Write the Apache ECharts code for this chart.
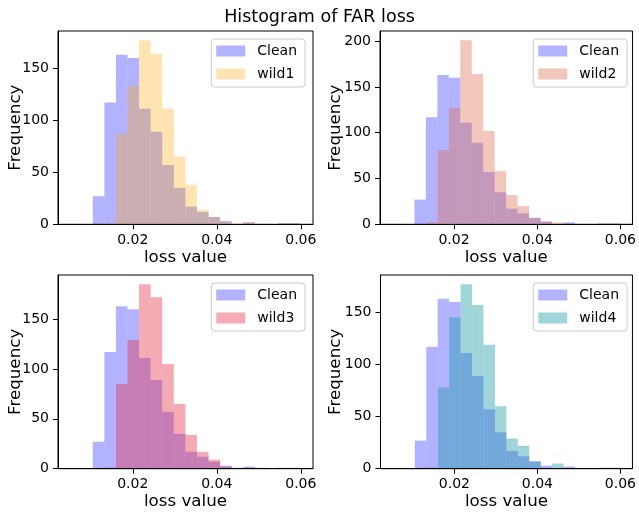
<!DOCTYPE html>
<html>
<head>
<meta charset="utf-8">
<script src="https://cdn.jsdelivr.net/npm/echarts@6/dist/echarts.min.js"></script>
<style>
html,body{margin:0;padding:0;background:#fff;}
#chart{width:639px;height:513px;}
</style>
</head>
<body>
<div id="chart"></div>
<script>
// ---- data ----
const chartTitle = 'Histogram of FAR loss';
const binEdges = [0.01047, 0.01323, 0.01599, 0.01874, 0.02150, 0.02426, 0.02701, 0.02977, 0.03253, 0.03528,
                  0.03804, 0.04080, 0.04355, 0.04631, 0.04907, 0.05182, 0.05458, 0.05734, 0.06009];
const clean = [27, 117, 163, 160, 111, 89, 57, 35, 17, 12, 7, 3, 0, 2, 0, 0, 1, 1];
const wild1 = [0, 1, 87, 133, 177, 164, 111, 65, 38, 14, 7, 3, 1, 2, 0, 0, 0, 0];
const wild2 = [0, 2, 81, 127, 201, 164, 102, 58, 32, 20, 7, 3, 2, 0, 0, 0, 0, 0];
const wild3 = [0, 1, 85, 129, 185, 172, 105, 65, 34, 17, 9, 2, 1, 1, 1, 0, 0, 0];
const wild4 = [0, 1, 78, 145, 177, 157, 119, 60, 29, 22, 7, 1, 5, 0, 0, 0, 0, 0];
const wildNames = ['wild1', 'wild2', 'wild3', 'wild4'];
const xTicks = [0.02, 0.04, 0.06];
const yTicks1 = [0, 50, 100, 150];
const yTicks2 = [0, 50, 100, 150, 200];
const yTicks3 = [0, 50, 100, 150];
const yTicks4 = [0, 50, 100, 150];
const xLabel = 'loss value';
const yLabel = 'Frequency';

// ---- styling / layout ----
const FONT = 'DejaVu Sans';
const cleanColor = 'rgba(0,0,255,0.3)';
const wildColors = ['rgba(255,165,0,0.3)', 'rgba(222,112,82,0.4)', 'rgba(228,45,68,0.4)', 'rgba(17,152,162,0.4)'];
const wildData = [wild1, wild2, wild3, wild4];
const yTicksAll = [yTicks1, yTicks2, yTicks3, yTicks4];
const xMin = 0.0022, xMax = 0.0629;
const grids = [
  {left: 58, top: 31, width: 255, height: 193.3},
  {left: 380, top: 31, width: 255, height: 193.3},
  {left: 58, top: 275, width: 255, height: 193.7},
  {left: 380.5, top: 275, width: 254.5, height: 193.7}
];
const legendPos = [
  {right: 334, top: 39},
  {right: 12, top: 39},
  {right: 334, top: 283},
  {right: 12, top: 283}
];
const yNameGap = [34, 36, 34, 36];

function rows(counts) {
  return counts.map((c, i) => [binEdges[i], binEdges[i + 1], c]);
}
function renderItem(params, api) {
  const x0 = api.value(0), x1 = api.value(1), h = api.value(2);
  if (!h) return null;
  const p0 = api.coord([x0, 0]);
  const p1 = api.coord([x1, h]);
  return {
    type: 'rect',
    shape: {x: p0[0], y: p1[1], width: p1[0] - p0[0], height: p0[1] - p1[1]},
    style: api.style()
  };
}

const option = {
  animation: false,
  backgroundColor: '#fff',
  title: {
    text: chartTitle, left: 'center', top: 3,
    textStyle: {fontFamily: FONT, fontSize: 17.5, fontWeight: 'normal', color: '#000'}
  },
  grid: grids.map(g => Object.assign({show: true, borderColor: '#000', borderWidth: 1, backgroundColor: 'transparent'}, g)),
  xAxis: grids.map((g, i) => ({
    gridIndex: i, type: 'value', min: xMin, max: xMax, z: 5,
    splitLine: {show: false},
    axisLine: {show: true, onZero: false, lineStyle: {color: '#000', width: 1}},
    axisTick: {show: true, length: 5, customValues: xTicks, lineStyle: {color: '#000', width: 1}},
    axisLabel: {customValues: xTicks, margin: 9, fontSize: 14, color: '#000', fontFamily: FONT},
    name: xLabel, nameLocation: 'middle', nameGap: 24.5, nameMoveOverlap: false,
    nameTextStyle: {fontSize: 16.7, color: '#000', fontFamily: FONT}
  })),
  yAxis: grids.map((g, i) => {
    const maxCount = Math.max(...clean, ...wildData[i]);
    return {
      gridIndex: i, type: 'value', min: 0, max: maxCount * 1.05, z: 5,
      splitLine: {show: false},
      axisLine: {show: true, lineStyle: {color: '#000', width: 1}},
      axisTick: {show: true, length: 5, customValues: yTicksAll[i], lineStyle: {color: '#000', width: 1}},
      axisLabel: {customValues: yTicksAll[i], margin: 9, fontSize: 14, color: '#000', fontFamily: FONT},
      name: yLabel, nameLocation: 'middle', nameGap: yNameGap[i], nameRotate: 90, nameMoveOverlap: false,
      nameTextStyle: {fontSize: 16.7, color: '#000', fontFamily: FONT}
    };
  }),
  legend: grids.map((g, i) => ({
    data: ['Clean', wildNames[i]],
    orient: 'vertical',
    right: legendPos[i].right, top: legendPos[i].top,
    icon: 'rect', itemWidth: 29, itemHeight: 11, itemGap: 9,
    padding: [5, 8, 6, 5],
    backgroundColor: 'rgba(255,255,255,0.8)',
    borderColor: '#ccc', borderWidth: 1, borderRadius: 3,
    selectedMode: false,
    textStyle: {fontSize: 14, color: '#000', fontFamily: FONT, lineHeight: 14, padding: [0, 0, 0, 7]}
  })),
  series: []
};

grids.forEach((g, i) => {
  option.series.push({
    type: 'custom', name: 'Clean', xAxisIndex: i, yAxisIndex: i,
    renderItem: renderItem, itemStyle: {color: cleanColor},
    encode: {x: [0, 1], y: 2}, data: rows(clean), z: 2
  });
  option.series.push({
    type: 'custom', name: wildNames[i], xAxisIndex: i, yAxisIndex: i,
    renderItem: renderItem, itemStyle: {color: wildColors[i]},
    encode: {x: [0, 1], y: 2}, data: rows(wildData[i]), z: 2
  });
});

const chart = echarts.init(document.getElementById('chart'), null, {renderer: 'canvas'});
chart.setOption(option);
</script>
</body>
</html>
